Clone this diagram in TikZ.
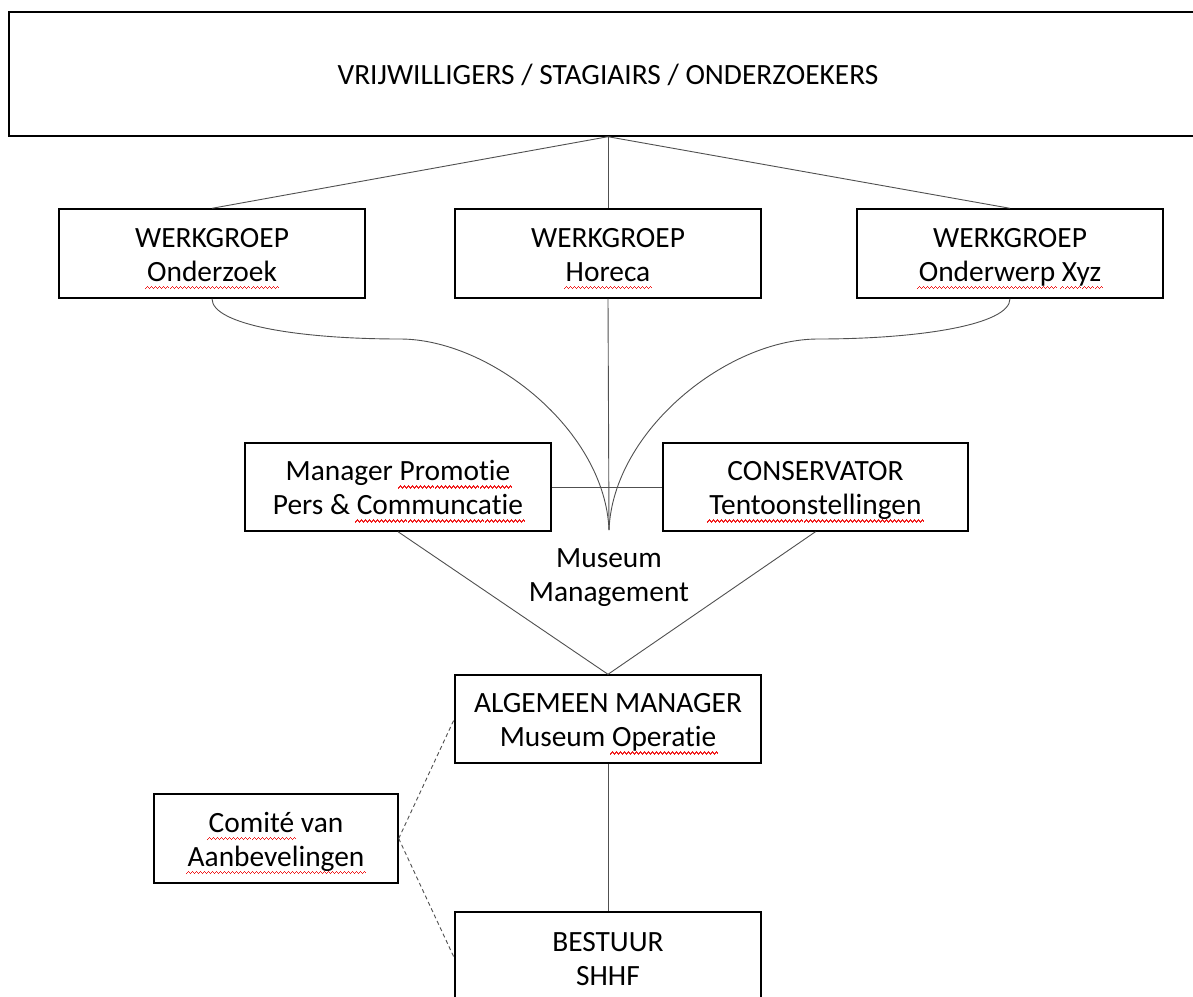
\documentclass[tikz,border=0pt]{standalone}
\usepackage{fontspec}
\setmainfont[Ligatures={NoCommon}]{Carlito}
\usetikzlibrary{positioning}
\definecolor{squig}{RGB}{240,30,30}
\definecolor{conn}{RGB}{80,80,80}
\newsavebox\sqword
\newcommand\wavepiece{\hbox{\rule[-8.0pt]{1pt}{1.4pt}\rule[-7.0pt]{1pt}{1.4pt}\rule[-6.0pt]{1pt}{1.4pt}\rule[-7.0pt]{1pt}{1.4pt}}}
\newcommand\sq[1]{\sbox\sqword{#1}\rlap{\kern-2pt\hbox to \dimexpr\wd\sqword+4pt\relax{\color{squig}\xleaders\wavepiece\hfil}}\usebox\sqword}
\newcommand\hs{\rule{0pt}{30pt}}
\newcommand\ds{\rule[-9pt]{0pt}{9pt}}
\begin{document}
\begin{tikzpicture}[x=1pt,y=-1pt,
  box/.style={draw=black,line width=1.4pt,rectangle,inner sep=0pt,align=center,
    font=\fontsize{29.4}{34}\selectfont},
  wbox/.style={box,minimum width=306pt,minimum height=89pt},
  conline/.style={draw=conn,line width=0.9pt},
  dashline/.style={draw=conn,line width=0.9pt,dashed,dash pattern=on 4pt off 3pt}]
\useasboundingbox (0,0) rectangle (1193,996);
\fill[white] (0,0) rectangle (1193,996);
% nodes
\node[box,minimum width=1198pt,minimum height=124pt] (top) at (608,74)
  {\hs VRIJWILLIGERS / STAGIAIRS / ONDERZOEKERS\ds};
\node[wbox] (wg1) at (212,253.5) {\hs WERKGROEP\\\sq{Onderzoek}\ds};
\node[wbox] (wg2) at (608,253.5) {\hs WERKGROEP\\\sq{Horeca}\ds};
\node[wbox] (wg3) at (1010,253.5) {\hs WERKGROEP\\\sq{Onderwerp} \sq{Xyz}\ds};
\node[box,minimum width=306pt,minimum height=88pt] (mgr) at (398,487)
  {\hs Manager \sq{Promotie}\\Pers \& \sq{Communcatie}\ds};
\node[box,minimum width=305pt,minimum height=88pt] (cons) at (815.5,487)
  {\hs CONSERVATOR\\\sq{Tentoonstellingen}\ds};
\node[align=center,inner sep=0pt,font=\fontsize{29.4}{34}\selectfont] (mm) at (609,574)
  {\hs Museum\\Management\ds};
\node[box,minimum width=306pt,minimum height=88pt] (alg) at (608,719)
  {\hs ALGEMEEN MANAGER\\Museum \sq{Operatie}\ds};
\node[box,minimum width=306pt,minimum height=92pt] (best) at (608,958)
  {\hs BESTUUR\\SHHF\ds};
\node[box,minimum width=244pt,minimum height=89pt] (com) at (276,838.5)
  {\hs\sq{Comité} van\\\sq{Aanbevelingen}\ds};
\coordinate (hub) at (609,530);
% connectors
\draw[conline] (top.south) -- (wg1.north);
\draw[conline] (top.south) -- (wg2.north);
\draw[conline] (top.south) -- (wg3.north);
\draw[conline] (wg1.south) .. controls (212,325) and (300,339) .. (400,339)
  .. controls (490,339) and (605,430) .. (hub);
\draw[conline] (wg2.south) -- (hub);
\draw[conline] (wg3.south) .. controls (1010,325) and (918,339) .. (818,339)
  .. controls (728,339) and (613,430) .. (hub);
\draw[conline] (mgr.east) -- (cons.west);
\draw[conline] (mgr.south) -- (alg.north);
\draw[conline] (cons.south) -- (alg.north);
\draw[conline] (alg.south) -- (best.north);
\draw[dashline] (com.east) -- (alg.west);
\draw[dashline] (com.east) -- (best.west);
\end{tikzpicture}
\end{document}
